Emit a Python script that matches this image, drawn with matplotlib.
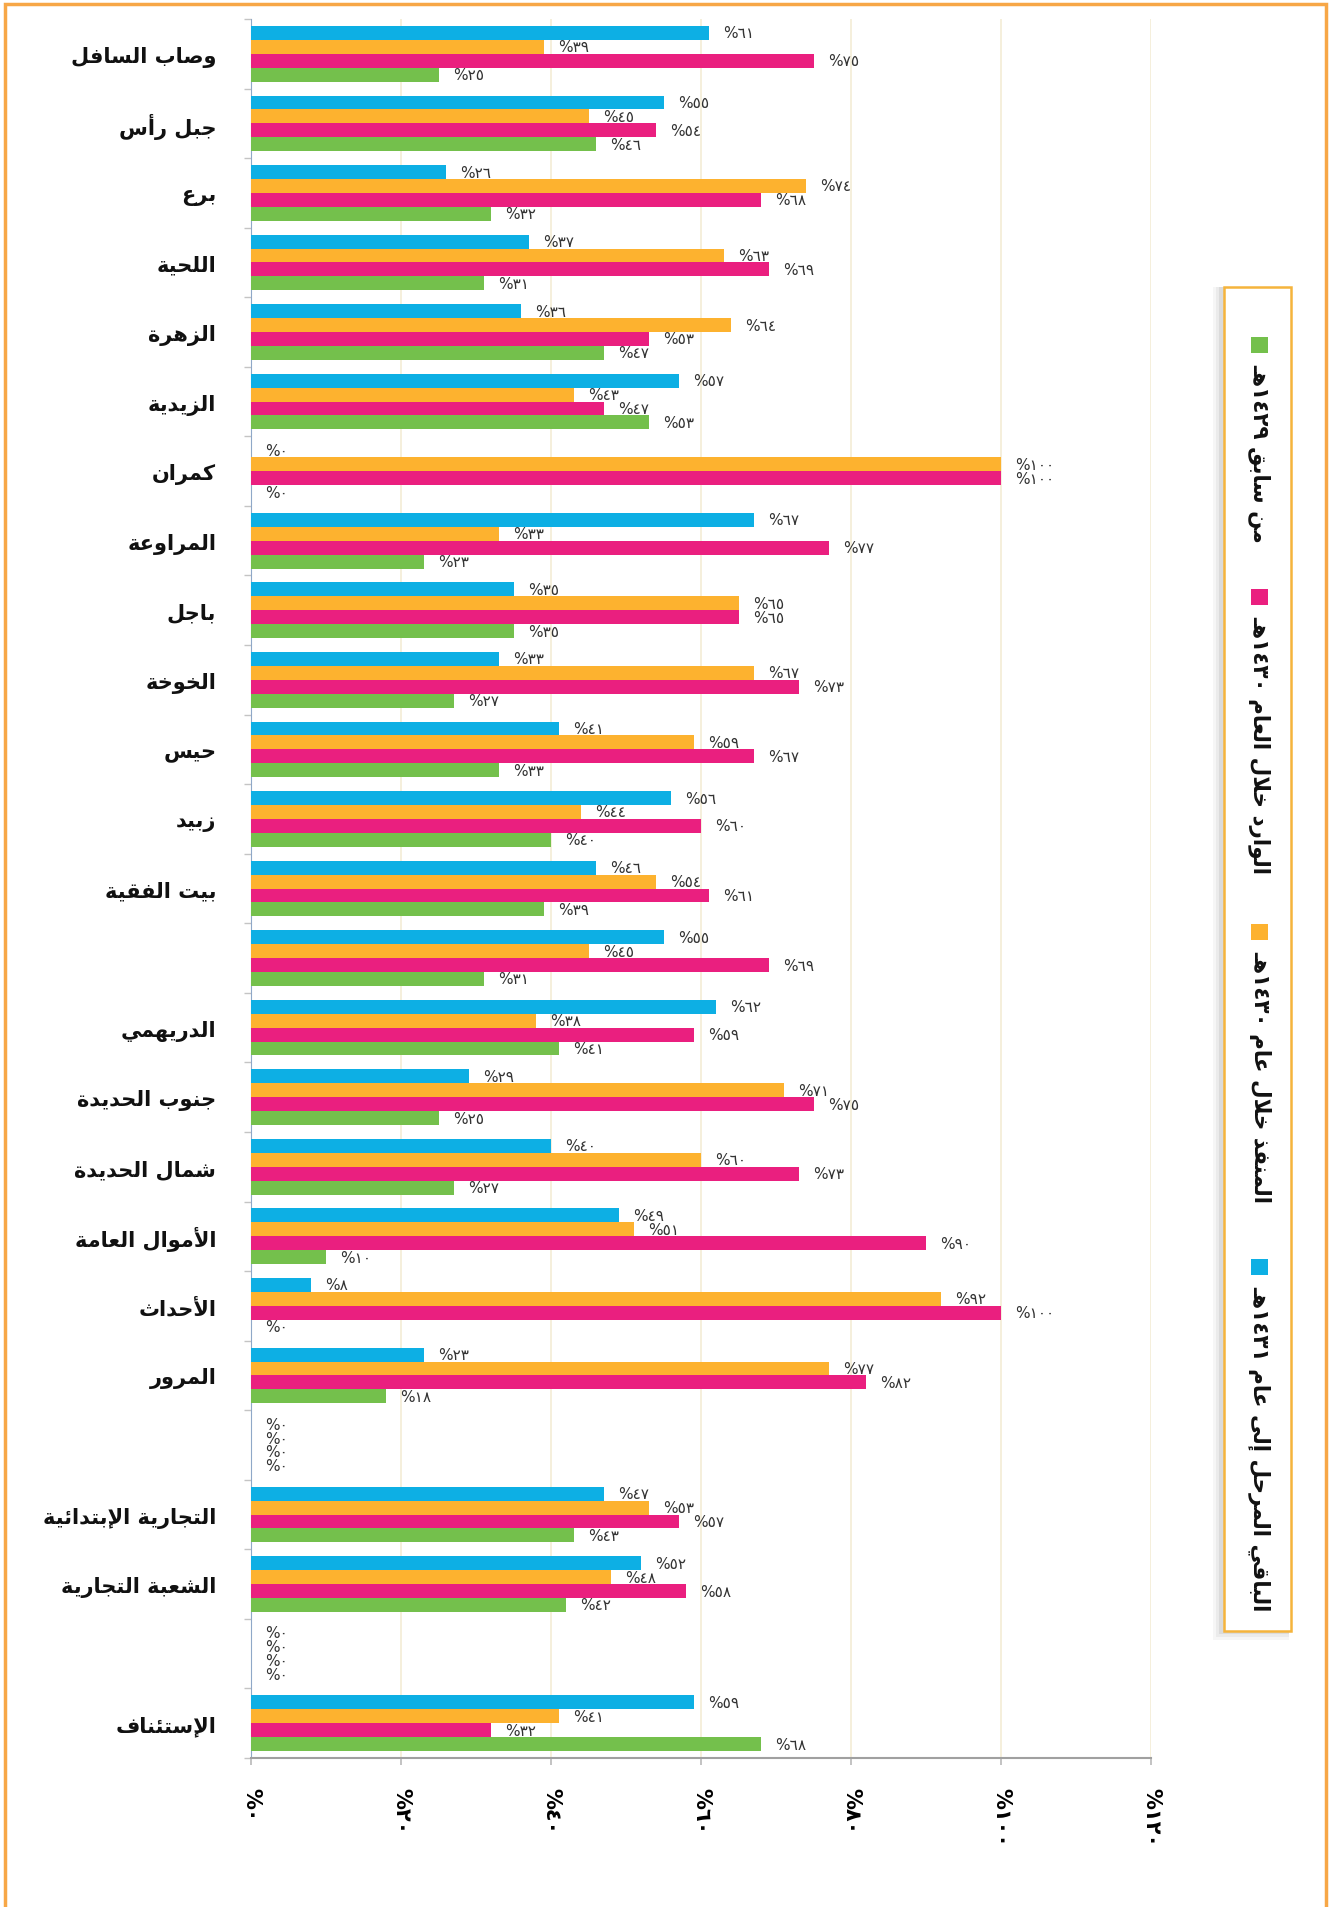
import re

import matplotlib
matplotlib.use('Agg')
import matplotlib.pyplot as plt
from matplotlib.patches import Rectangle
import numpy as np

# courts, top to bottom (three rows carry no name)
categories = [
    "وصاب السافل", "جبل رأس", "برع", "اللحية", "الزهرة", "الزيدية", "كمران",
    "المراوعة", "باجل", "الخوخة", "حيس", "زبيد", "بيت الفقية", "",
    "الدريهمي", "جنوب الحديدة", "شمال الحديدة", "الأموال العامة", "الأحداث",
    "المرور", "", "التجارية الإبتدائية", "الشعبة التجارية", "", "الإستئناف",
]

# percentages per series
remaining_1431 = [61, 55, 26, 37, 36, 57, 0, 67, 35, 33, 41, 56, 46, 55,
                  62, 29, 40, 49, 8, 23, 0, 47, 52, 0, 59]
done_1430 = [39, 45, 74, 63, 64, 43, 100, 33, 65, 67, 59, 44, 54, 45,
             38, 71, 60, 51, 92, 77, 0, 53, 48, 0, 41]
received_1430 = [75, 54, 68, 69, 53, 47, 100, 77, 65, 73, 67, 60, 61, 69,
                 59, 75, 73, 90, 100, 82, 0, 57, 58, 0, 32]
previous_1429 = [25, 46, 32, 31, 47, 53, 0, 23, 35, 27, 33, 40, 39, 31,
                 41, 25, 27, 10, 0, 18, 0, 43, 42, 0, 68]

legend_labels = [
    "من سابق ١٤٢٩هـ",
    "الوارد خلال العام ١٤٣٠هـ",
    "المنفذ خلال عام ١٤٣٠هـ",
    "الباقي المرحل إلى عام ١٤٣١هـ",
]
x_ticks = [0, 20, 40, 60, 80, 100, 120]

BLUE = "#0DAFE4"
ORANGE = "#FDB22F"
MAGENTA = "#EA1F7F"
GREEN = "#74C04C"

# --- minimal Arabic shaping (matplotlib has no complex text layout) ---
_ORDER = "ءآأؤإئابةتثجحخدذرزسشصضطظعغفقكلمنهوىي"
_NFORMS = [1, 2, 2, 2, 2, 4, 2, 4, 2, 4, 4, 4, 4, 4, 2, 2, 2, 2,
           4, 4, 4, 4, 4, 4, 4, 4, 4, 4, 4, 4, 4, 4, 4, 2, 2, 4]
FORMS = {}
_code = 0xFE80
for _ch, _n in zip(_ORDER, _NFORMS):
    FORMS[_ch] = tuple(_code + k for k in range(_n))
    _code += _n
FORMS["ـ"] = (0x0640,) * 4
LAM_ALEF = {"آ": 0xFEF5, "أ": 0xFEF7, "إ": 0xFEF9, "ا": 0xFEFB}


def ar(text):
    """Shape Arabic letters and return them in visual (left-to-right) order."""
    units = []
    i = 0
    while i < len(text):
        c = text[i]
        if c == "ل" and i + 1 < len(text) and text[i + 1] in LAM_ALEF:
            base = LAM_ALEF[text[i + 1]]
            units.append((None, (base, base + 1)))
            i += 2
            continue
        units.append((c, FORMS.get(c)))
        i += 1
    out = []
    for k, (c, f) in enumerate(units):
        if f is None:
            out.append(c)
            continue
        prev = units[k - 1][1] if k > 0 else None
        nxt = units[k + 1][1] if k + 1 < len(units) else None
        join_prev = prev is not None and len(prev) == 4
        join_next = nxt is not None and len(f) == 4 and len(nxt) >= 2
        if join_prev and join_next:
            code = f[3]
        elif join_prev:
            code = f[1]
        elif join_next:
            code = f[2]
        else:
            code = f[0]
        out.append(chr(code))
    s = "".join(out)[::-1]
    # numbers keep their own left-to-right order
    return re.sub(r"[0-9٠-٩]+", lambda m: m.group()[::-1], s)


def ar_digits(n):
    return str(n).translate(str.maketrans("0123456789", "٠١٢٣٤٥٦٧٨٩"))


def pct(n):
    return ar(ar_digits(n) + "%")


W, H = 1330, 1908
fig = plt.figure(figsize=(W / 100, H / 100), dpi=100)
ax = fig.add_axes([251 / W, 1 - 1759 / H, 900 / W, 1739 / H])

y = np.arange(len(categories))
bar_h = 0.2
series = [
    (remaining_1431, BLUE, -0.3),
    (done_1430, ORANGE, -0.1),
    (received_1430, MAGENTA, 0.1),
    (previous_1429, GREEN, 0.3),
]
for values, color, off in series:
    ax.barh(y + off, values, height=bar_h, color=color, edgecolor="none", zorder=3)
    for yi, v in zip(y, values):
        ax.annotate(pct(v), xy=(v, yi + off), xytext=(10.5, 0),
                    textcoords="offset points", va="center", ha="left",
                    fontsize=11, color="#333333", zorder=4)

ax.set_xlim(0, 120)
ax.set_ylim(len(categories) - 0.5, -0.5)
ax.set_xticks(x_ticks)
ax.set_xticklabels([pct(t) for t in x_ticks], rotation=-90,
                   fontsize=15, fontweight="bold", va="top", ha="center")
ax.tick_params(axis="x", length=5, width=1.2, color="#b9b9b9", pad=16)

ax.set_yticks(y)
ax.set_yticklabels([ar(c) for c in categories], fontsize=15, fontweight="bold",
                   color="#111111")
ax.set_yticks(np.arange(len(categories) + 1) - 0.5, minor=True)
ax.tick_params(axis="y", which="major", length=0, pad=25)
ax.tick_params(axis="y", which="minor", length=5, width=1, color="#c4c4c4")

ax.grid(axis="x", color="#f4ecd6", linewidth=1.2, zorder=0)
for side in ("top", "right"):
    ax.spines[side].set_visible(False)
ax.spines["left"].set_color("#8fa8c8")
ax.spines["bottom"].set_color("#a0a0a0")
ax.spines["bottom"].set_linewidth(1.5)


def fx(px):
    return px / W


def fy(py):
    return 1 - py / H


# legend: a horizontal legend turned a quarter clockwise
lx0, lx1, ly0, ly1 = 1224, 1291, 288, 1632
for grow, alpha in ((9, 0.06), (6, 0.08), (3, 0.12)):
    fig.add_artist(Rectangle((fx(lx0 - grow - 2), fy(ly1 + grow)),
                             fx(lx1 - lx0 + grow), (ly1 - ly0 + grow) / H,
                             transform=fig.transFigure, color="#6d6d6d",
                             alpha=alpha, lw=0))
fig.add_artist(Rectangle((fx(lx0), fy(ly1)), fx(lx1 - lx0), (ly1 - ly0) / H,
                         transform=fig.transFigure, facecolor="white",
                         edgecolor="#f5b43c", lw=1.8))
entry_top = [338, 590, 925, 1260]
for label, color, top in zip(legend_labels, [GREEN, MAGENTA, ORANGE, BLUE], entry_top):
    fig.add_artist(Rectangle((fx(1251), fy(top + 16)), fx(17), 16 / H,
                             transform=fig.transFigure, color=color, lw=0))
    fig.text(fx(1260), fy(top + 26), ar(label), rotation=-90, ha="center",
             va="top", fontsize=15.5, fontweight="bold", color="#111111")

# page frame
fig.add_artist(Rectangle((fx(5), fy(H + 10)), fx(1321), (H + 5) / H,
                         transform=fig.transFigure, fill=False,
                         edgecolor="#f7a747", lw=2.5))

fig.savefig("out.png", dpi=100, facecolor="white")
